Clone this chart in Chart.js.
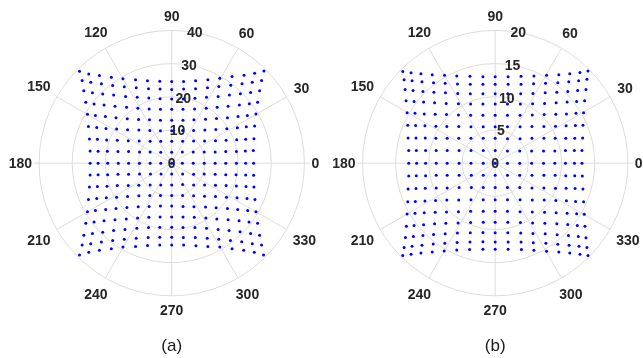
<!DOCTYPE html>
<html>
<head>
<meta charset="utf-8">
<script src="https://cdn.jsdelivr.net/npm/chart.js@4/dist/chart.umd.min.js"></script>
<style>
  html, body { margin: 0; padding: 0; background: #fff; }
  #wrap { width: 643px; height: 358px; position: relative; }
</style>
</head>
<body>
<div id="wrap"><canvas id="c" width="643" height="358"></canvas></div>
<script>
// Angular ticks (degrees) shared by both polar axes
const thetaTicks = [0, 30, 60, 90, 120, 150, 180, 210, 240, 270, 300, 330];
// Radial ticks of each panel
const rTicksA = [0, 10, 20, 30, 40];
const rTicksB = [0, 5, 10, 15, 20];
const captions = ['(a)', '(b)'];

// Panel (a): sample grid, rows from top to bottom, columns left to right (radial units)
const aX = [
  [-27.8,-25.0,-21.8,-18.2,-14.7,-10.9,-7.3,-3.6,0,3.6,7.2,10.9,14.5,18.2,21.8,25.0,27.8],
  [-27.0,-24.4,-21.2,-17.8,-14.3,-10.7,-7.0,-3.5,0,3.6,7.2,10.8,14.2,17.8,21.2,24.3,27.1],
  [-26.5,-23.9,-20.8,-17.5,-13.9,-10.4,-6.9,-3.5,0,3.5,7.0,10.5,14.0,17.4,20.7,23.8,26.5],
  [-25.9,-23.4,-20.4,-17.1,-13.6,-10.2,-6.8,-3.4,0,3.4,6.9,10.4,13.7,17.0,20.4,23.4,25.9],
  [-25.4,-23.0,-20.0,-16.8,-13.4,-10.0,-6.7,-3.4,0,3.4,6.7,10.2,13.5,16.8,20.0,22.8,25.4],
  [-25.1,-22.6,-19.8,-16.6,-13.3,-9.9,-6.6,-3.4,0,3.3,6.6,10.0,13.3,16.6,19.8,22.5,25.0],
  [-24.8,-22.4,-19.6,-16.4,-13.1,-9.8,-6.5,-3.3,0,3.3,6.6,9.9,13.2,16.4,19.6,22.3,24.8],
  [-24.6,-22.2,-19.4,-16.2,-13.0,-9.7,-6.5,-3.3,0,3.2,6.5,9.8,13.1,16.3,19.5,22.2,24.6],
  [-24.6,-22.2,-19.3,-16.1,-13.0,-9.7,-6.5,-3.3,0,3.2,6.5,9.8,13.1,16.3,19.5,22.3,24.7],
  [-24.6,-22.2,-19.3,-16.2,-13.0,-9.7,-6.4,-3.2,0,3.3,6.6,9.8,13.1,16.3,19.4,22.3,24.7],
  [-24.8,-22.4,-19.5,-16.4,-13.1,-9.9,-6.5,-3.3,0,3.3,6.6,9.9,13.2,16.4,19.5,22.4,24.8],
  [-25.1,-22.6,-19.7,-16.6,-13.3,-9.9,-6.6,-3.4,0,3.3,6.6,9.9,13.2,16.5,19.7,22.7,25.1],
  [-25.4,-23.0,-19.9,-16.8,-13.5,-10.1,-6.8,-3.4,0,3.4,6.7,10.2,13.4,16.8,19.9,22.9,25.4],
  [-25.9,-23.4,-20.4,-17.1,-13.7,-10.3,-6.9,-3.5,0,3.4,6.8,10.3,13.6,17.0,20.3,23.3,25.9],
  [-26.5,-23.9,-20.8,-17.5,-14.1,-10.5,-7.0,-3.6,0,3.4,7.0,10.5,14.0,17.3,20.6,23.8,26.5],
  [-27.0,-24.4,-21.2,-17.8,-14.3,-10.7,-7.1,-3.6,0,3.5,7.1,10.7,14.2,17.7,21.1,24.3,27.1],
  [-27.8,-25.0,-21.8,-18.2,-14.7,-10.9,-7.3,-3.6,0,3.6,7.3,10.9,14.5,18.2,21.7,24.9,27.7]
];
const aY = [
  [27.8,27.0,26.5,26.0,25.5,25.2,24.9,24.8,24.7,24.7,24.9,25.2,25.7,26.2,26.6,27.2,27.9],
  [25.0,24.5,24.0,23.5,23.1,22.8,22.5,22.4,22.3,22.4,22.5,22.8,23.2,23.6,24.0,24.5,25.0],
  [21.9,21.3,20.9,20.6,20.2,19.9,19.7,19.5,19.4,19.4,19.6,19.9,20.2,20.6,21.0,21.4,21.9],
  [18.4,17.9,17.6,17.2,16.9,16.6,16.4,16.3,16.3,16.3,16.4,16.6,16.9,17.2,17.6,18.0,18.4],
  [14.8,14.4,14.1,13.7,13.4,13.2,13.1,13.0,13.0,13.0,13.1,13.3,13.5,13.7,14.1,14.4,14.9],
  [11.1,10.8,10.5,10.3,10.1,10.0,9.9,9.8,9.8,9.9,9.9,10.0,10.2,10.4,10.7,11.0,11.2],
  [7.3,7.2,7.0,6.9,6.8,6.7,6.6,6.6,6.6,6.6,6.7,6.7,6.8,6.9,7.1,7.2,7.4],
  [3.7,3.6,3.6,3.5,3.5,3.4,3.4,3.3,3.3,3.4,3.4,3.4,3.4,3.5,3.5,3.7,3.8],
  [0,0,0,0,0,0,0,0,0,0,0,0,0,0,0,0,0],
  [-3.6,-3.5,-3.5,-3.4,-3.4,-3.3,-3.3,-3.3,-3.3,-3.3,-3.4,-3.3,-3.4,-3.5,-3.5,-3.6,-3.7],
  [-7.2,-7.1,-7.0,-6.8,-6.8,-6.7,-6.6,-6.6,-6.6,-6.5,-6.6,-6.6,-6.7,-6.8,-6.9,-7.1,-7.2],
  [-11.0,-10.7,-10.5,-10.3,-10.1,-9.9,-9.8,-9.8,-9.8,-9.8,-9.9,-10.0,-10.1,-10.3,-10.5,-10.7,-11.0],
  [-14.7,-14.3,-14.0,-13.7,-13.4,-13.2,-13.1,-13.0,-13.0,-13.1,-13.2,-13.3,-13.5,-13.7,-14.0,-14.3,-14.7],
  [-18.2,-17.8,-17.4,-17.1,-16.9,-16.6,-16.4,-16.3,-16.3,-16.3,-16.4,-16.6,-16.9,-17.1,-17.4,-17.8,-18.2],
  [-21.8,-21.3,-20.9,-20.4,-20.1,-19.7,-19.5,-19.4,-19.4,-19.5,-19.5,-19.7,-20.1,-20.4,-20.8,-21.3,-21.8],
  [-24.8,-24.4,-23.9,-23.4,-23.0,-22.7,-22.5,-22.4,-22.4,-22.5,-22.5,-22.7,-23.0,-23.4,-23.8,-24.4,-24.8],
  [-27.8,-27.0,-26.4,-25.9,-25.4,-25.2,-24.9,-24.8,-24.8,-24.8,-25.0,-25.2,-25.4,-25.9,-26.4,-27.0,-27.8]
];

// Panel (b): sample grid, same ordering
const bX = [
  [-13.93,-12.68,-11.19,-9.49,-7.64,-5.79,-3.80,-1.85,0,1.95,3.90,5.84,7.74,9.59,11.24,12.78,13.98],
  [-13.73,-12.53,-11.04,-9.29,-7.54,-5.69,-3.75,-1.85,0,1.95,3.90,5.79,7.59,9.44,11.09,12.58,13.83],
  [-13.58,-12.38,-10.89,-9.24,-7.49,-5.64,-3.75,-1.85,0,1.90,3.85,5.69,7.54,9.29,10.94,12.43,13.68],
  [-13.43,-12.23,-10.79,-9.14,-7.39,-5.54,-3.70,-1.85,0,1.85,3.80,5.64,7.44,9.19,10.84,12.28,13.48],
  [-13.28,-12.09,-10.69,-9.04,-7.34,-5.54,-3.70,-1.85,0,1.85,3.75,5.59,7.39,9.14,10.74,12.18,13.33],
  [-13.18,-11.99,-10.59,-8.94,-7.29,-5.49,-3.65,-1.80,0,1.85,3.75,5.54,7.34,9.09,10.69,12.09,13.23],
  [-13.13,-11.94,-10.54,-8.94,-7.24,-5.49,-3.65,-1.80,0,1.85,3.75,5.54,7.34,9.04,10.64,11.99,13.18],
  [-13.03,-11.89,-10.49,-8.89,-7.24,-5.44,-3.65,-1.80,0,1.85,3.70,5.49,7.29,8.99,10.59,11.94,13.08],
  [-13.03,-11.84,-10.49,-8.89,-7.24,-5.44,-3.65,-1.80,0,1.85,3.70,5.49,7.29,8.99,10.59,11.94,13.08],
  [-13.03,-11.89,-10.49,-8.89,-7.24,-5.44,-3.60,-1.80,0,1.85,3.70,5.54,7.34,9.04,10.64,11.99,13.13],
  [-13.13,-11.94,-10.54,-8.89,-7.24,-5.44,-3.60,-1.80,0,1.85,3.70,5.54,7.34,9.09,10.69,12.04,13.23],
  [-13.18,-12.04,-10.59,-8.99,-7.29,-5.49,-3.65,-1.80,0,1.85,3.75,5.59,7.39,9.14,10.74,12.13,13.33],
  [-13.28,-12.09,-10.69,-9.04,-7.34,-5.54,-3.70,-1.80,0,1.85,3.75,5.59,7.44,9.19,10.84,12.28,13.43],
  [-13.38,-12.23,-10.79,-9.14,-7.44,-5.59,-3.70,-1.80,0,1.90,3.80,5.64,7.49,9.29,10.94,12.38,13.53],
  [-13.53,-12.33,-10.89,-9.29,-7.54,-5.69,-3.75,-1.85,0,1.90,3.85,5.69,7.54,9.34,11.04,12.53,13.68],
  [-13.73,-12.53,-11.04,-9.34,-7.59,-5.74,-3.80,-1.85,0,1.95,3.90,5.74,7.64,9.44,11.14,12.63,13.83],
  [-13.93,-12.68,-11.19,-9.49,-7.69,-5.79,-3.85,-1.85,0,1.95,3.95,5.84,7.74,9.59,11.24,12.78,13.98]
];
const bY = [
  [13.88,13.68,13.53,13.38,13.28,13.18,13.13,13.08,13.08,13.08,13.13,13.18,13.28,13.38,13.53,13.73,13.93],
  [12.63,12.48,12.33,12.18,12.09,11.99,11.94,11.94,11.94,11.94,11.94,12.00,12.09,12.18,12.33,12.48,12.68],
  [11.14,10.99,10.84,10.74,10.64,10.54,10.49,10.49,10.49,10.49,10.49,10.54,10.64,10.74,10.84,10.99,11.14],
  [9.44,9.34,9.24,9.14,9.04,8.99,8.94,8.94,8.94,8.94,8.94,8.99,9.04,9.14,9.24,9.34,9.44],
  [7.64,7.54,7.44,7.39,7.34,7.29,7.24,7.24,7.24,7.24,7.24,7.29,7.34,7.39,7.44,7.54,7.64],
  [5.74,5.69,5.64,5.59,5.54,5.54,5.49,5.49,5.49,5.49,5.49,5.54,5.54,5.59,5.64,5.69,5.74],
  [3.80,3.80,3.80,3.75,3.75,3.75,3.75,3.75,3.75,3.70,3.70,3.75,3.75,3.75,3.75,3.75,3.80],
  [1.90,1.90,1.90,1.90,1.90,1.90,1.90,1.90,1.90,1.85,1.85,1.85,1.85,1.85,1.90,1.90,1.90],
  [0,0,0,0,0,0,0,0,0,0,0,0,0,0,0,0,0],
  [-1.95,-1.90,-1.90,-1.85,-1.85,-1.85,-1.85,-1.85,-1.85,-1.85,-1.85,-1.85,-1.85,-1.85,-1.90,-1.90,-1.95],
  [-3.90,-3.85,-3.80,-3.75,-3.75,-3.70,-3.70,-3.70,-3.70,-3.70,-3.70,-3.75,-3.75,-3.80,-3.80,-3.85,-3.90],
  [-5.84,-5.79,-5.74,-5.64,-5.59,-5.59,-5.54,-5.54,-5.54,-5.54,-5.54,-5.59,-5.59,-5.64,-5.69,-5.79,-5.84],
  [-7.69,-7.59,-7.49,-7.44,-7.39,-7.34,-7.29,-7.29,-7.29,-7.29,-7.34,-7.39,-7.44,-7.49,-7.59,-7.64,-7.74],
  [-9.54,-9.44,-9.34,-9.19,-9.09,-9.04,-8.99,-8.94,-8.94,-8.94,-8.99,-9.04,-9.09,-9.19,-9.29,-9.44,-9.54],
  [-11.24,-11.09,-10.94,-10.79,-10.69,-10.59,-10.54,-10.49,-10.52,-10.54,-10.59,-10.64,-10.69,-10.84,-10.94,-11.09,-11.29],
  [-12.78,-12.58,-12.43,-12.23,-12.13,-11.99,-11.94,-11.89,-11.92,-11.94,-11.94,-12.04,-12.13,-12.28,-12.43,-12.58,-12.78],
  [-13.98,-13.78,-13.58,-13.43,-13.28,-13.13,-13.08,-13.03,-13.03,-13.03,-13.08,-13.18,-13.33,-13.43,-13.58,-13.78,-13.98]
];

// ---- layout of the two polar axes (pixels) ----
const W = 643, H = 358;
const CY = 163;          // vertical centre of both polar axes
const RPX = 133.3;       // outer ring radius
const panels = [
  { key: 'a', cx: 171, rMax: 40, rTicks: rTicksA, xs: aX, ys: aY, caption: captions[0] },
  { key: 'b', cx: 496, rMax: 20, rTicks: rTicksB, xs: bX, ys: bY, caption: captions[1] }
];

const GRID = '#dcdcdc';
const TEXT = '#262626';
const TICK_FONT = 'bold 14px "Liberation Sans", Arial, sans-serif';
const CAP_FONT = '17px "Liberation Sans", Arial, sans-serif';

function toPoints(xs, ys) {
  const pts = [];
  xs.forEach((row, i) => row.forEach((x, j) => pts.push({ x: x, y: ys[i][j] })));
  return pts;
}

const scales = {};
const datasets = [];
panels.forEach(p => {
  const k = p.rMax / RPX; // data units per pixel
  scales['x' + p.key] = { type: 'linear', display: false, min: -p.cx * k, max: (W - p.cx) * k };
  scales['y' + p.key] = { type: 'linear', display: false, min: -(H - CY) * k, max: CY * k };
  datasets.push({
    data: toPoints(p.xs, p.ys),
    xAxisID: 'x' + p.key,
    yAxisID: 'y' + p.key,
    pointRadius: 1.5,
    pointHoverRadius: 1.5,
    pointBackgroundColor: '#0000ff',
    pointBorderWidth: 0,
    showLine: false
  });
});

function frameOf(chart, p) {
  const xs = chart.scales['x' + p.key], ys = chart.scales['y' + p.key];
  const cx = xs.getPixelForValue(0), cy = ys.getPixelForValue(0);
  const rad = v => xs.getPixelForValue(v) - cx;
  return { cx, cy, rad };
}

const polarFrame = {
  id: 'polarFrame',
  beforeDatasetsDraw(chart) {
    const ctx = chart.ctx;
    ctx.save();
    ctx.strokeStyle = GRID;
    ctx.lineWidth = 1;
    panels.forEach(p => {
      const f = frameOf(chart, p);
      const R = f.rad(p.rMax);
      p.rTicks.forEach(t => {
        if (t <= 0) return;
        ctx.beginPath();
        ctx.arc(f.cx, f.cy, f.rad(t), 0, Math.PI * 2);
        ctx.stroke();
      });
      thetaTicks.forEach(th => {
        const a = th * Math.PI / 180;
        ctx.beginPath();
        ctx.moveTo(f.cx, f.cy);
        ctx.lineTo(f.cx + R * Math.cos(a), f.cy - R * Math.sin(a));
        ctx.stroke();
      });
      // short marks just outside the rim on the horizontal axis
      [0, 180].forEach(th => {
        const a = th * Math.PI / 180;
        ctx.beginPath();
        ctx.moveTo(f.cx + R * Math.cos(a), f.cy);
        ctx.lineTo(f.cx + (R + 5) * Math.cos(a), f.cy);
        ctx.stroke();
      });
    });
    ctx.restore();
  },
  afterDatasetsDraw(chart) {
    const ctx = chart.ctx;
    ctx.save();
    ctx.fillStyle = TEXT;
    ctx.font = TICK_FONT;
    ctx.textAlign = 'center';
    ctx.textBaseline = 'middle';
    panels.forEach(p => {
      const f = frameOf(chart, p);
      const R = f.rad(p.rMax);
      // angle labels, kept outside the rim
      thetaTicks.forEach(th => {
        const a = th * Math.PI / 180;
        const c = Math.cos(a), s = Math.sin(a);
        const w = ctx.measureText(String(th)).width;
        const d = R + 7 + (w / 2) * Math.abs(c) + 7 * Math.abs(s);
        ctx.fillText(String(th), f.cx + d * c, f.cy - d * s + 1);
      });
      // radial labels along 80 degrees
      const ra = 80 * Math.PI / 180;
      p.rTicks.forEach(t => {
        const r = f.rad(t);
        ctx.fillText(String(t), f.cx + r * Math.cos(ra), f.cy - r * Math.sin(ra) + 1);
      });
      // panel caption
      ctx.save();
      ctx.font = CAP_FONT;
      ctx.fillStyle = '#1a1a1a';
      ctx.fillText(p.caption, f.cx, 346);
      ctx.restore();
    });
    ctx.restore();
  }
};

new Chart(document.getElementById('c'), {
  type: 'scatter',
  data: { datasets },
  options: {
    responsive: false,
    animation: false,
    devicePixelRatio: 1,
    layout: { padding: 0 },
    scales,
    plugins: { legend: { display: false }, tooltip: { enabled: false } },
    events: []
  },
  plugins: [polarFrame]
});
</script>
</body>
</html>
